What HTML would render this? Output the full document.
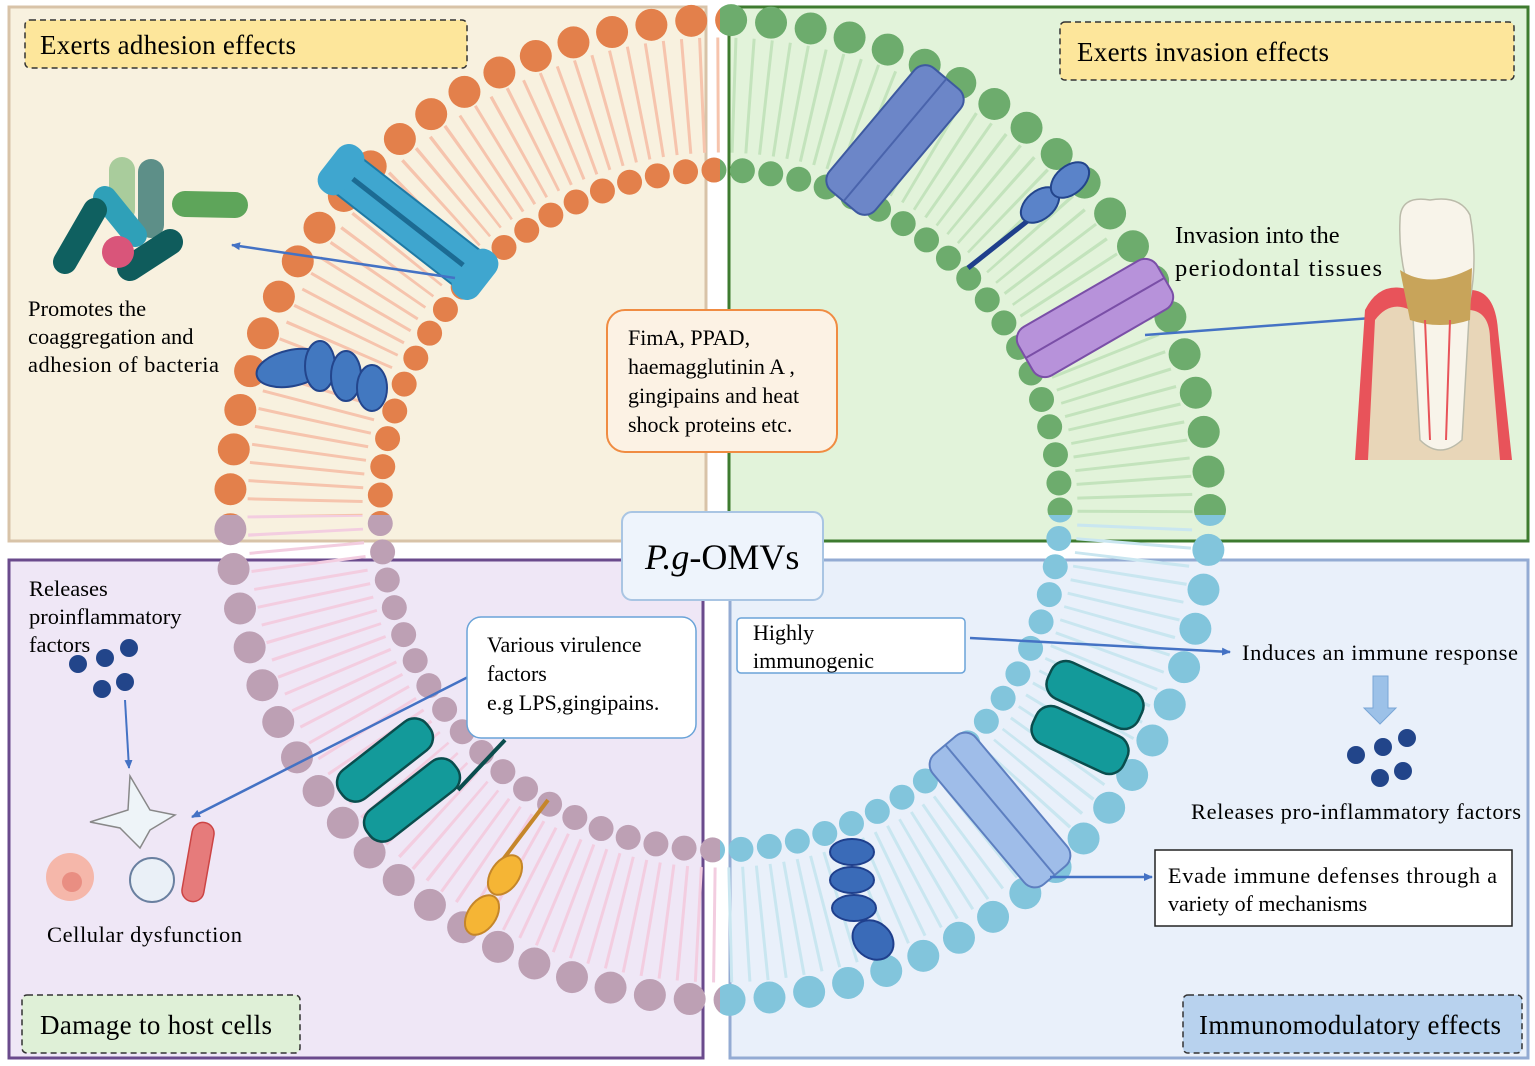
<!DOCTYPE html>
<html><head><meta charset="utf-8"><style>
body{margin:0;width:1535px;height:1066px;overflow:hidden;background:#fff;font-family:"Liberation Serif",serif;}
svg{display:block}
</style></head><body>
<svg width="1535" height="1066" viewBox="0 0 1535 1066" xmlns="http://www.w3.org/2000/svg" font-family="Liberation Serif, serif">
<defs>
<clipPath id="tl"><rect x="0" y="0" width="720" height="515"/></clipPath>
<clipPath id="tr"><rect x="720" y="0" width="815" height="515"/></clipPath>
<clipPath id="bl"><rect x="0" y="515" width="720" height="551"/></clipPath>
<clipPath id="br"><rect x="720" y="515" width="815" height="551"/></clipPath>
<marker id="ar" markerWidth="10" markerHeight="10" refX="8" refY="5" orient="auto" markerUnits="userSpaceOnUse"><path d="M0,1 L9,5 L0,9 Z" fill="#4472c4"/></marker>
</defs>
<rect x="9" y="7" width="697" height="534" fill="#f8f1df" stroke="#d8c3a8" stroke-width="3"/>
<rect x="729" y="7" width="799" height="534" fill="#e2f3da" stroke="#3e7b2f" stroke-width="3"/>
<rect x="9" y="560" width="694" height="498" fill="#efe7f6" stroke="#6a4a8c" stroke-width="3"/>
<rect x="730" y="560" width="798" height="498" fill="#e9f0fa" stroke="#93abd3" stroke-width="3"/>

<g clip-path="url(#tl)">
<circle cx="720" cy="510" r="415" fill="none" stroke="#f6c4ad" stroke-width="115" stroke-dasharray="3 13"/>
<circle cx="720" cy="510" r="490" fill="none" stroke="#e3804b" stroke-width="32" stroke-linecap="round" stroke-dasharray="0 40"/>
<circle cx="720" cy="510" r="340" fill="none" stroke="#e3804b" stroke-width="25" stroke-linecap="round" stroke-dasharray="0 28.5"/>
</g>
<g clip-path="url(#tr)">
<circle cx="720" cy="510" r="415" fill="none" stroke="#c3e3bc" stroke-width="115" stroke-dasharray="3 13"/>
<circle cx="720" cy="510" r="490" fill="none" stroke="#6dac6d" stroke-width="32" stroke-linecap="round" stroke-dasharray="0 40"/>
<circle cx="720" cy="510" r="340" fill="none" stroke="#6dac6d" stroke-width="25" stroke-linecap="round" stroke-dasharray="0 28.5"/>
</g>
<g clip-path="url(#bl)">
<circle cx="720" cy="510" r="415" fill="none" stroke="#f3cde0" stroke-width="115" stroke-dasharray="3 13"/>
<circle cx="720" cy="510" r="490" fill="none" stroke="#bda0b4" stroke-width="32" stroke-linecap="round" stroke-dasharray="0 40"/>
<circle cx="720" cy="510" r="340" fill="none" stroke="#bda0b4" stroke-width="25" stroke-linecap="round" stroke-dasharray="0 28.5"/>
</g>
<g clip-path="url(#br)">
<circle cx="720" cy="510" r="415" fill="none" stroke="#c9e6f0" stroke-width="115" stroke-dasharray="3 13"/>
<circle cx="720" cy="510" r="490" fill="none" stroke="#82c5dc" stroke-width="32" stroke-linecap="round" stroke-dasharray="0 40"/>
<circle cx="720" cy="510" r="340" fill="none" stroke="#82c5dc" stroke-width="25" stroke-linecap="round" stroke-dasharray="0 28.5"/>
</g>

<g transform="translate(408,222) rotate(38)">
<rect x="-95" y="-22" width="190" height="44" rx="18" fill="#3fa6cf" stroke="#1f7aa5" stroke-width="2"/>
<line x1="-95" y1="0" x2="95" y2="0" stroke="#1c6b93" stroke-width="5"/>
<rect x="-100" y="-28" width="30" height="56" rx="14" fill="#3fa6cf"/>
<rect x="70" y="-28" width="30" height="56" rx="14" fill="#3fa6cf"/>
</g>
<g fill="#4278c0" stroke="#23458c" stroke-width="2">
<ellipse cx="292" cy="368" rx="36" ry="18" transform="rotate(-12 292 368)"/>
<ellipse cx="320" cy="366" rx="15" ry="25"/>
<ellipse cx="346" cy="376" rx="15" ry="25"/>
<ellipse cx="372" cy="388" rx="15" ry="23"/>
</g>
<g stroke-linecap="round">
<line x1="122" y1="170" x2="122" y2="210" stroke="#a9cc9c" stroke-width="26"/>
<line x1="151" y1="172" x2="151" y2="225" stroke="#5d8f88" stroke-width="26"/>
<line x1="185" y1="204" x2="235" y2="205" stroke="#5ea55a" stroke-width="26"/>
<line x1="105" y1="198" x2="135" y2="235" stroke="#2fa0b8" stroke-width="24"/>
<line x1="95" y1="210" x2="65" y2="262" stroke="#0f6060" stroke-width="24"/>
<line x1="130" y1="268" x2="170" y2="242" stroke="#0f5c5c" stroke-width="26"/>
</g>
<circle cx="118" cy="252" r="16" fill="#d9557a"/>
<line x1="455" y1="278" x2="232" y2="245" stroke="#4472c4" stroke-width="2.5" marker-end="url(#ar)"/>

<g transform="translate(895,140) rotate(40)">
<rect x="-30" y="-80" width="60" height="160" rx="14" fill="#6c86c8" stroke="#3e5aa0" stroke-width="2"/>
<line x1="0" y1="-80" x2="0" y2="80" stroke="#4a64ac" stroke-width="2"/>
</g>
<line x1="968" y1="268" x2="1035" y2="215" stroke="#1f3f8c" stroke-width="5"/>
<ellipse cx="1040" cy="205" rx="22" ry="14" transform="rotate(-40 1040 205)" fill="#5a83c9" stroke="#23458c" stroke-width="2"/>
<ellipse cx="1070" cy="180" rx="22" ry="14" transform="rotate(-40 1070 180)" fill="#5a83c9" stroke="#23458c" stroke-width="2"/>
<g transform="translate(1095,318) rotate(-30)">
<rect x="-80" y="-28" width="160" height="56" rx="14" fill="#b792da" stroke="#7a4fa7" stroke-width="2"/>
<line x1="-80" y1="0" x2="80" y2="0" stroke="#7a4fa7" stroke-width="2"/>
</g>
<line x1="1145" y1="335" x2="1385" y2="317" stroke="#4472c4" stroke-width="2.5" marker-end="url(#ar)"/>
<path d="M1355,460 L1365,310 Q1380,280 1410,290 L1470,290 Q1495,290 1498,330 L1512,460 Z" fill="#e8535a"/>
<path d="M1368,460 L1375,320 Q1390,300 1410,310 L1470,310 Q1490,312 1490,340 L1500,460 Z" fill="#e8d6b8"/>
<path d="M1400,220 Q1400,195 1430,200 Q1460,195 1470,215 Q1478,260 1470,300 L1462,440 Q1440,460 1420,440 L1412,300 Q1398,260 1400,220 Z" fill="#f8f4ea" stroke="#bba" stroke-width="1.5"/>
<path d="M1400,270 Q1430,290 1472,268 L1470,320 Q1440,330 1410,320 Z" fill="#c8a45a"/>
<path d="M1425,320 L1430,440 M1450,320 L1446,440" stroke="#e8535a" stroke-width="2" fill="none"/>

<g transform="translate(385,760) rotate(-38)">
<rect x="-55" y="-18" width="110" height="36" rx="16" fill="#139a9a" stroke="#0a4d4d" stroke-width="2.5"/>
</g>
<g transform="translate(412,800) rotate(-38)">
<rect x="-55" y="-18" width="110" height="36" rx="16" fill="#139a9a" stroke="#0a4d4d" stroke-width="2.5"/>
</g>
<line x1="458" y1="790" x2="505" y2="740" stroke="#0a4d4d" stroke-width="4"/>
<line x1="495" y1="870" x2="548" y2="800" stroke="#c5862a" stroke-width="4"/>
<ellipse cx="505" cy="875" rx="14" ry="22" transform="rotate(35 505 875)" fill="#f5b535" stroke="#c5862a" stroke-width="2"/>
<ellipse cx="482" cy="915" rx="14" ry="22" transform="rotate(35 482 915)" fill="#f5b535" stroke="#c5862a" stroke-width="2"/>
<g fill="#22458a"><circle cx="78" cy="664" r="9"/><circle cx="105" cy="658" r="9"/><circle cx="129" cy="648" r="9"/><circle cx="102" cy="689" r="9"/><circle cx="125" cy="682" r="9"/></g>
<line x1="125" y1="700" x2="129" y2="768" stroke="#4472c4" stroke-width="2" marker-end="url(#ar)"/>
<path d="M90,822 L128,810 L130,776 L150,810 L175,815 L150,830 L140,848 L120,828 Z" fill="#eef4f8" stroke="#888" stroke-width="1.5"/>
<circle cx="70" cy="877" r="24" fill="#f5b7aa"/><circle cx="72" cy="882" r="10" fill="#e98e82"/>
<circle cx="152" cy="880" r="22" fill="#eaf0f7" stroke="#6a80a0" stroke-width="2"/>
<rect x="187" y="822" width="22" height="80" rx="11" fill="#e67b7b" stroke="#c44" stroke-width="1.5" transform="rotate(10 198 862)"/>
<line x1="470" y1="676" x2="192" y2="817" stroke="#4472c4" stroke-width="2.5" marker-end="url(#ar)"/>

<g transform="translate(1095,695) rotate(25)">
<rect x="-50" y="-20" width="100" height="40" rx="16" fill="#139a9a" stroke="#0a4d4d" stroke-width="2.5"/>
</g>
<g transform="translate(1080,740) rotate(25)">
<rect x="-50" y="-20" width="100" height="40" rx="16" fill="#139a9a" stroke="#0a4d4d" stroke-width="2.5"/>
</g>
<g transform="translate(1000,810) rotate(-40)">
<rect x="-28" y="-85" width="56" height="170" rx="14" fill="#9fbde9" stroke="#5d7fc0" stroke-width="2"/>
<line x1="0" y1="-85" x2="0" y2="85" stroke="#5d7fc0" stroke-width="2"/>
</g>
<g fill="#3a6bb8" stroke="#1f3f8c" stroke-width="2">
<ellipse cx="852" cy="852" rx="22" ry="13"/><ellipse cx="852" cy="880" rx="22" ry="13"/><ellipse cx="854" cy="908" rx="22" ry="13"/>
<ellipse cx="873" cy="940" rx="22" ry="18" transform="rotate(40 873 940)"/>
</g>
<line x1="970" y1="638" x2="1230" y2="652" stroke="#4472c4" stroke-width="2.5" marker-end="url(#ar)"/>
<line x1="1050" y1="877" x2="1152" y2="877" stroke="#4472c4" stroke-width="2.5" marker-end="url(#ar)"/>
<path d="M1373,676 L1388,676 L1388,708 L1396,708 L1380,724 L1364,708 L1373,708 Z" fill="#9cc1e8" stroke="#7aa6d6"/>
<g fill="#22458a"><circle cx="1356" cy="755" r="9"/><circle cx="1383" cy="747" r="9"/><circle cx="1407" cy="738" r="9"/><circle cx="1380" cy="778" r="9"/><circle cx="1403" cy="771" r="9"/></g>

<rect x="25" y="20" width="442" height="48" rx="5" fill="#fde69b" stroke="#333" stroke-width="1.5" stroke-dasharray="6 4"/>
<text x="40" y="54" font-size="27" textLength="256">Exerts adhesion effects</text>
<rect x="1060" y="22" width="454" height="58" rx="5" fill="#fde69b" stroke="#333" stroke-width="1.5" stroke-dasharray="6 4"/>
<text x="1077" y="61" font-size="27" textLength="252">Exerts invasion effects</text>
<rect x="22" y="995" width="278" height="58" rx="5" fill="#dff0d7" stroke="#333" stroke-width="1.5" stroke-dasharray="6 4"/>
<text x="40" y="1034" font-size="27" textLength="232">Damage to host cells</text>
<rect x="1183" y="995" width="339" height="58" rx="5" fill="#b8d2ee" stroke="#333" stroke-width="1.5" stroke-dasharray="6 4"/>
<text x="1199" y="1034" font-size="27" textLength="302">Immunomodulatory effects</text>

<rect x="607" y="310" width="230" height="142" rx="18" fill="#fcf2e4" stroke="#f08c42" stroke-width="2"/>
<g font-size="22"><text x="628" y="345">FimA, PPAD,</text><text x="628" y="374">haemagglutinin A ,</text><text x="628" y="403">gingipains and heat</text><text x="628" y="432">shock proteins etc.</text></g>

<rect x="622" y="512" width="201" height="88" rx="10" fill="#eef4fc" stroke="#a9c5e3" stroke-width="2"/>
<text x="645" y="569" font-size="36"><tspan font-style="italic">P.g</tspan>-OMVs</text>

<rect x="467" y="617" width="229" height="121" rx="14" fill="#fff" stroke="#6aa3d8" stroke-width="1.5"/>
<g font-size="22"><text x="487" y="652">Various virulence</text><text x="487" y="681">factors</text><text x="487" y="710">e.g LPS,gingipains.</text></g>

<rect x="737" y="618" width="228" height="55" rx="4" fill="#fff" stroke="#6aa3d8" stroke-width="1.5"/>
<g font-size="22"><text x="753" y="640">Highly</text><text x="753" y="668">immunogenic</text></g>

<rect x="1155" y="850" width="357" height="76" fill="#fff" stroke="#222" stroke-width="1.5"/>
<g font-size="22"><text x="1168" y="883" textLength="329">Evade immune defenses through a</text><text x="1168" y="911">variety of mechanisms</text></g>

<g font-size="22.5">
<text x="28" y="316">Promotes the</text><text x="28" y="344">coaggregation and</text><text x="28" y="372" textLength="191">adhesion of bacteria</text>
<text x="1175" y="243" font-size="24.5">Invasion into the</text><text x="1175" y="276" font-size="24.5" textLength="207">periodontal tissues</text>
<text x="29" y="596">Releases</text><text x="29" y="624">proinflammatory</text><text x="29" y="652">factors</text>
<text x="47" y="942" textLength="195">Cellular dysfunction</text>
<text x="1242" y="660" textLength="276">Induces an immune response</text>
<text x="1191" y="819" textLength="330">Releases pro-inflammatory factors</text>
</g>
</svg>
</body></html>
